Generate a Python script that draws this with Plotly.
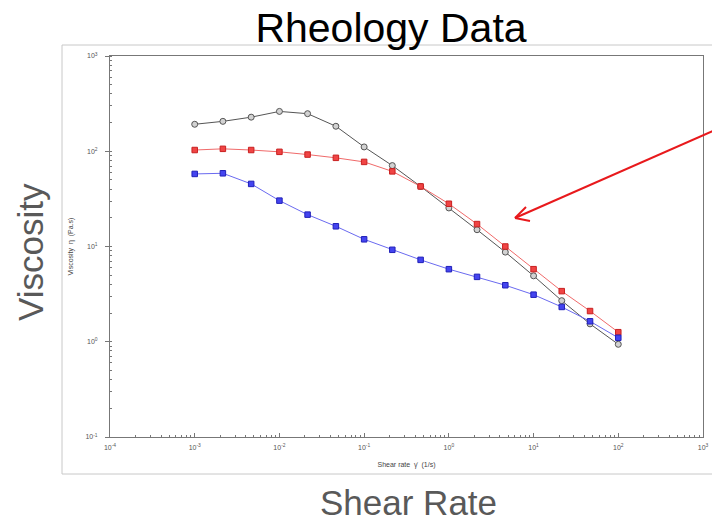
import plotly.graph_objects as go

# ---- data ----
shear_rate = [1e-3, 2.15e-3, 4.64e-3, 1e-2, 2.15e-2, 4.64e-2, 1e-1, 2.15e-1,
              4.64e-1, 1.0, 2.15, 4.64, 10.0, 21.5, 46.4, 100.0]
visc_gray = [192, 206, 228, 262, 248, 183, 111, 70.7, 42.7, 25.4, 15.0, 8.73,
             4.92, 2.70, 1.54, 0.94]
visc_red = [103, 106, 103, 98.6, 92.3, 85.3, 77.3, 61.5, 42.7, 28.1, 17.2, 10.0,
            5.78, 3.40, 2.10, 1.26]
visc_blue = [57.8, 58.7, 45.4, 30.3, 21.6, 16.3, 11.9, 9.23, 7.24, 5.78, 4.80,
             3.92, 3.12, 2.32, 1.64, 1.10]

x_tickvals = [1e-4, 1e-3, 1e-2, 1e-1, 1e0, 1e1, 1e2, 1e3]
x_ticktext = ["10<sup>-4</sup>", "10<sup>-3</sup>", "10<sup>-2</sup>", "10<sup>-1</sup>",
              "10<sup>0</sup>", "10<sup>1</sup>", "10<sup>2</sup>", "10<sup>3</sup>"]
y_tickvals = [1e-1, 1e0, 1e1, 1e2, 1e3]
y_ticktext = ["10<sup>-1</sup>", "10<sup>0</sup>", "10<sup>1</sup>", "10<sup>2</sup>",
              "10<sup>3</sup>"]

title_text = "Rheology Data"
outer_y_label = "Viscosity"
outer_x_label = "Shear Rate"
inner_y_label = "Viscosity  η  (Pa.s)"
inner_x_label = "Shear rate  γ̇  (1/s)"

# ---- figure geometry (window pixels; page body has an 8px margin) ----
OFF = 8
W, H = 720 - OFF, 518 - OFF
PLOT_L, PLOT_R, PLOT_T, PLOT_B = 110, 703, 56, 437  # in window pixels
ML = PLOT_L - OFF
MT = PLOT_T - OFF
MR = W - (PLOT_R - OFF)
MB = H - (PLOT_B - OFF)
PW, PH = PLOT_R - PLOT_L, PLOT_B - PLOT_T


def px(xw):
    return (xw - PLOT_L) / PW


def py(yw):
    return (PLOT_B - yw) / PH


fig = go.Figure()
fig.add_trace(go.Scatter(
    x=shear_rate, y=visc_gray, mode="lines+markers", name="gray",
    line=dict(color="#555555", width=1),
    marker=dict(symbol="circle", size=6, color="#d2d2d2",
                line=dict(color="#555555", width=1))))
fig.add_trace(go.Scatter(
    x=shear_rate, y=visc_red, mode="lines+markers", name="red",
    line=dict(color="#f06a6a", width=1),
    marker=dict(symbol="square", size=5.5, color="#f04444",
                line=dict(color="#c82020", width=1))))
fig.add_trace(go.Scatter(
    x=shear_rate, y=visc_blue, mode="lines+markers", name="blue",
    line=dict(color="#6a6af0", width=1),
    marker=dict(symbol="square", size=5.5, color="#4444f0",
                line=dict(color="#2020b8", width=1))))

axis_common = dict(
    type="log", showgrid=False, zeroline=False, showline=True,
    linecolor="#777777", linewidth=1, mirror=True,
    tickfont=dict(family="Liberation Sans, Arial", size=7, color="#555555"),
    tickcolor="#777777", tickmode="array",
)

fig.update_xaxes(
    **axis_common,
    range=[-4, 3], tickvals=x_tickvals, ticktext=x_ticktext,
    ticks="inside", ticklen=4, ticklabelstandoff=4,
    minor=dict(ticks="inside", ticklen=2, dtick="D1", tickcolor="#777777", showgrid=False),
    title=dict(text=inner_x_label, standoff=11,
               font=dict(family="Liberation Sans, Arial", size=7, color="#444444")),
)
fig.update_yaxes(
    **axis_common,
    range=[-1, 3], tickvals=y_tickvals, ticktext=y_ticktext,
    ticks="outside", ticklen=4, ticklabelstandoff=6,
    minor=dict(ticks="inside", ticklen=2, dtick="D1", tickcolor="#777777", showgrid=False),
    title=dict(text=inner_y_label, standoff=10,
               font=dict(family="Liberation Sans, Arial", size=7, color="#444444")),
)

shapes = [
    # outer slide image frame
    dict(type="rect", xref="paper", yref="paper",
         x0=px(62), x1=px(730), y0=py(474), y1=py(45),
         line=dict(color="#c8c8c8", width=1), layer="below"),
    # red arrow
    dict(type="line", xref="paper", yref="paper",
         x0=px(722), y0=py(127), x1=px(515), y1=py(218),
         line=dict(color="#e8191c", width=2)),
    dict(type="line", xref="paper", yref="paper",
         x0=px(515), y0=py(218), x1=px(526), y1=py(207),
         line=dict(color="#e8191c", width=2)),
    dict(type="line", xref="paper", yref="paper",
         x0=px(515), y0=py(218), x1=px(530), y1=py(221),
         line=dict(color="#e8191c", width=2)),
]

annotations = [
    dict(text=outer_y_label, xref="paper", yref="paper", x=px(30), y=py(252),
         showarrow=False, textangle=-90, xanchor="center", yanchor="middle",
         font=dict(family="Liberation Sans, Arial", size=35, color="#595959")),
    dict(text=outer_x_label, xref="paper", yref="paper", x=px(408.5), y=py(502),
         showarrow=False, xanchor="center", yanchor="middle",
         font=dict(family="Liberation Sans, Arial", size=35, color="#595959")),
]

fig.update_layout(
    width=W, height=H,
    margin=dict(l=ML, r=MR, t=MT, b=MB, pad=0),
    paper_bgcolor="white", plot_bgcolor="white",
    showlegend=False,
    title=dict(text=title_text, x=(391 - OFF) / W, xref="container", xanchor="center",
               y=1 - (28 - OFF) / H, yref="container", yanchor="middle",
               font=dict(family="Liberation Sans, Arial", size=41, color="#000000")),
    shapes=shapes,
    annotations=annotations,
)

fig.write_html("out.html")
